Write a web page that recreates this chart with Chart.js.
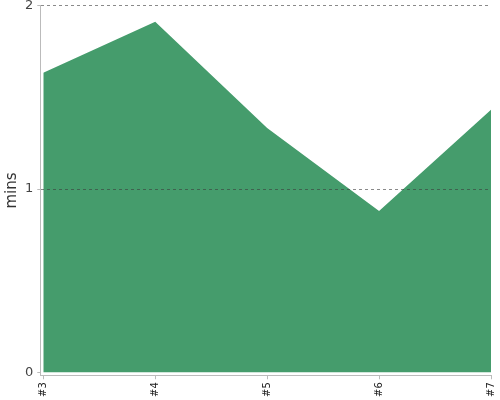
<!DOCTYPE html>
<html>
<head>
<meta charset="utf-8">
<script src="https://cdn.jsdelivr.net/npm/chart.js@4"></script>
<style>
  html, body { margin: 0; padding: 0; background: #fff; overflow: hidden; }
  #wrap { width: 506px; height: 406px; margin-top: -6px; }
</style>
</head>
<body>
<div id="wrap"><canvas id="myChart"></canvas></div>
<script>
const labels = ['#3', '#4', '#5', '#6', '#7'];
const mins = [1.634, 1.913, 1.333, 0.88, 1.432];
const yTicks = [0, 1, 2];

let ctx = document.getElementById('myChart').getContext('2d');
let myChart = new Chart(ctx, {
    type: 'line',
    data: {
        datasets: [{
            data: mins.map((v, i) => ({ x: i, y: v })),
            backgroundColor: '#459c6c',
            borderWidth: 0,
            pointRadius: 0,
            fill: 'origin',
            tension: 0
        }]
    },
    options: {
        responsive: true,
        maintainAspectRatio: false,
        animation: false,
        layout: { padding: { top: 0, right: 2, bottom: 0, left: 3 } },
        plugins: {
            legend: { display: false },
            tooltip: { enabled: false }
        },
        scales: {
            x: {
                type: 'linear',
                min: -0.027,
                max: labels.length - 1,
                afterBuildTicks: function(axis) {
                    axis.ticks = labels.map((l, i) => ({ value: i }));
                },
                ticks: {
                    autoSkip: false,
                    maxRotation: 90,
                    minRotation: 90,
                    color: '#222',
                    font: { family: 'DejaVu Sans', size: 10 },
                    padding: 3,
                    callback: function(value) { return labels[value]; }
                },
                grid: { drawOnChartArea: false, tickLength: 4, color: '#bbb' },
                border: { color: '#bbb' }
            },
            y: {
                min: -0.0164,
                max: 2,
                afterBuildTicks: function(axis) {
                    axis.ticks = yTicks.map(v => ({ value: v }));
                },
                ticks: {
                    color: '#444',
                    font: { family: 'DejaVu Sans', size: 13 },
                    padding: 4
                },
                grid: {
                    z: 1,
                    color: function(c) { return c.tick && c.tick.value === 0 ? 'rgba(0,0,0,0)' : 'rgba(60,60,60,0.6)'; },
                    tickColor: '#bbb',
                    tickLength: 3
                },
                border: { z: 1, color: '#bbb', dash: [3, 3], display: true },
                title: {
                    display: true,
                    text: 'mins',
                    color: '#333',
                    font: { family: 'DejaVu Sans', size: 15 },
                    padding: 0
                }
            }
        }
    }
});
</script>
</body>
</html>
